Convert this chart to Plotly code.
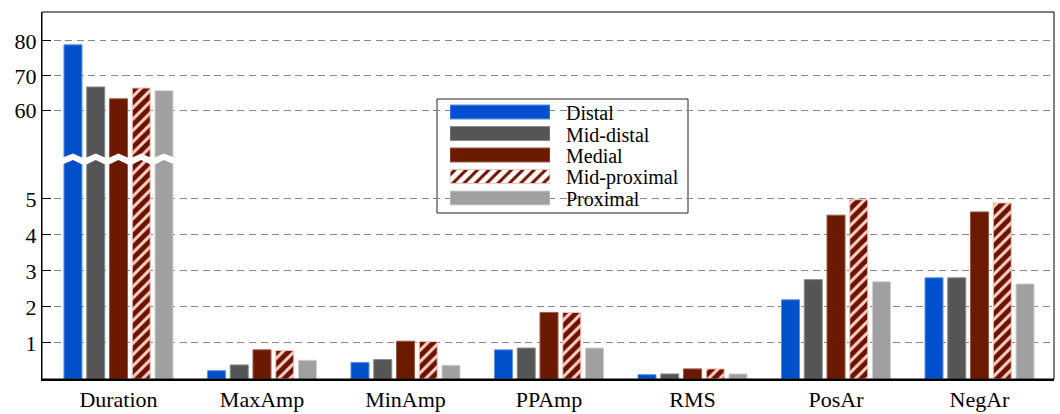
import plotly.graph_objects as go

# ---- data -------------------------------------------------------------
categories = ["Duration", "MaxAmp", "MinAmp", "PPAmp", "RMS", "PosAr", "NegAr"]
series_names = ["Distal", "Mid-distal", "Medial", "Mid-proximal", "Proximal"]

distal = [78.9, 0.23, 0.46, 0.81, 0.12, 2.20, 2.81]
mid_distal = [66.8, 0.39, 0.54, 0.86, 0.14, 2.76, 2.81]
medial = [63.4, 0.81, 1.05, 1.85, 0.28, 4.55, 4.64]
mid_proximal = [66.5, 0.79, 1.04, 1.85, 0.28, 4.98, 4.89]
proximal = [65.7, 0.52, 0.38, 0.86, 0.14, 2.70, 2.64]

lower_ticks = [1, 2, 3, 4, 5]
upper_ticks = [60, 70, 80]

# ---- styling ----------------------------------------------------------
FONT = "Liberation Serif"
colors = ["#0050cc", "#555555", "#6b1a00", "#6e1200", "#a0a0a0"]
edge_colors = ["#5c8fe6", "#8a8a8a", "#9a5a40", "#f3c4b8", "#cfcfcf"]
hatch_bg = "#fcd3c8"
hatched = [False, False, False, True, False]
values = [distal, mid_distal, medial, mid_proximal, proximal]

BARGAP = 0.207
BARGROUPGAP = 0.209
X_RANGE = [-0.533, 6.519]
BREAK = 0.605                 # paper y where the lower and upper panels meet
LOWER_RANGE = [0, 6.167]
UPPER_RANGE = [46.71, 88.32]
PLOT_W, PLOT_H = 1012, 367

grid = dict(showgrid=True, gridcolor="#888888", gridwidth=1, griddash="7px,4.5px",
            ticks="inside", ticklen=9, tickcolor="black", tickwidth=1,
            showline=True, linecolor="black", linewidth=1, zeroline=False,
            automargin=False,
            tickfont=dict(family=FONT, size=22, color="black"))


def marker_for(k):
    m = dict(color=colors[k], line=dict(color=edge_colors[k], width=1))
    if hatched[k]:
        m["pattern"] = dict(shape="/", fgcolor=colors[k], bgcolor=hatch_bg,
                            fgopacity=1, size=8, solidity=0.62)
    return m


fig = go.Figure()

# lower panel: every category (Duration bars run past the top and get clipped)
for k, name in enumerate(series_names):
    fig.add_trace(go.Bar(x=categories, y=values[k], name=name,
                         xaxis="x", yaxis="y", marker=marker_for(k),
                         showlegend=False))

# upper panel: only the long Duration bars
for k, name in enumerate(series_names):
    fig.add_trace(go.Bar(x=categories[:1], y=values[k][:1], name=name,
                         xaxis="x", yaxis="y2", marker=marker_for(k),
                         showlegend=False))

# inset legend drawn as a small horizontal bar panel
fig.add_trace(go.Bar(
    y=series_names, x=[1] * len(series_names), orientation="h",
    xaxis="x3", yaxis="y3", width=0.65, showlegend=False, hoverinfo="skip",
    marker=dict(
        color=colors,
        line=dict(color=edge_colors, width=1),
        pattern=dict(shape=["/" if h else "" for h in hatched],
                     fgcolor=colors,
                     bgcolor=[hatch_bg if h else c for h, c in zip(hatched, colors)],
                     fgopacity=1, size=8, solidity=0.62),
    ),
))

shapes = []

# white zig-zag break across the Duration group
slot = (1 - BARGAP) / len(series_names)
span = X_RANGE[1] - X_RANGE[0]


def xp(v):
    return (v - X_RANGE[0]) / span


def yp(px_offset):
    return BREAK + px_offset / PLOT_H


left = 0 - 2.5 * slot - 0.01
right = 0 + 2.5 * slot + 0.01
top_pts = [(xp(left), yp(-1.5))]
bot_pts = [(xp(left), yp(-8.5))]
for k in range(len(series_names)):
    c = (k - 2) * slot
    top_pts.append((xp(c), yp(3.5)))
    bot_pts.append((xp(c), yp(-3.0)))
    edge = c + slot / 2 if k < len(series_names) - 1 else right
    top_pts.append((xp(edge), yp(-1.5)))
    bot_pts.append((xp(edge), yp(-8.5)))
pts = top_pts + bot_pts[::-1]
path = "M" + " L".join(f"{x:.5f},{y:.5f}" for x, y in pts) + " Z"
shapes.append(dict(type="path", path=path, xref="paper", yref="paper",
                   fillcolor="white", line=dict(width=0), layer="above"))

# plot frame
shapes.append(dict(type="rect", xref="paper", yref="paper", x0=0, x1=1, y0=0, y1=1,
                   line=dict(color="black", width=1), layer="above"))

# legend box
shapes.append(dict(type="rect", xref="paper", yref="paper",
                   x0=395 / PLOT_W, x1=646 / PLOT_W,
                   y0=(379 - 213) / PLOT_H, y1=(379 - 99) / PLOT_H,
                   line=dict(color="#222222", width=1), fillcolor="white",
                   layer="below"))

annotations = [dict(text=name, xref="paper", yref="y3", x=522 / PLOT_W, y=name,
                    xanchor="left", yanchor="middle", showarrow=False, yshift=-1,
                    font=dict(family=FONT, size=20, color="black"))
               for name in series_names]

fig.update_layout(
    width=1060, height=414,
    margin=dict(l=42, r=6, t=12, b=35),
    paper_bgcolor="white", plot_bgcolor="rgba(0,0,0,0)",
    barmode="group", bargap=BARGAP, bargroupgap=BARGROUPGAP,
    font=dict(family=FONT, color="black"),
    xaxis=dict(type="category", range=X_RANGE, showgrid=False, ticks="",
               showline=True, linecolor="black", linewidth=1.5,
               automargin=False,
               tickfont=dict(family=FONT, size=22, color="black"),
               anchor="y", domain=[0, 1]),
    yaxis=dict(domain=[0, BREAK], range=LOWER_RANGE, tickvals=lower_ticks,
               anchor="x", **grid),
    yaxis2=dict(domain=[BREAK, 1], range=UPPER_RANGE, tickvals=upper_ticks,
                anchor="x", **grid),
    xaxis3=dict(domain=[408 / PLOT_W, 508 / PLOT_W], range=[0, 1], visible=False,
                anchor="y3", fixedrange=True),
    yaxis3=dict(domain=[(379 - 208.75) / PLOT_H, (379 - 101.25) / PLOT_H],
                type="category", range=[4.5, -0.5], visible=False,
                anchor="x3", fixedrange=True),
    shapes=shapes,
    annotations=annotations,
    showlegend=False,
)

fig.write_html("out.html")
